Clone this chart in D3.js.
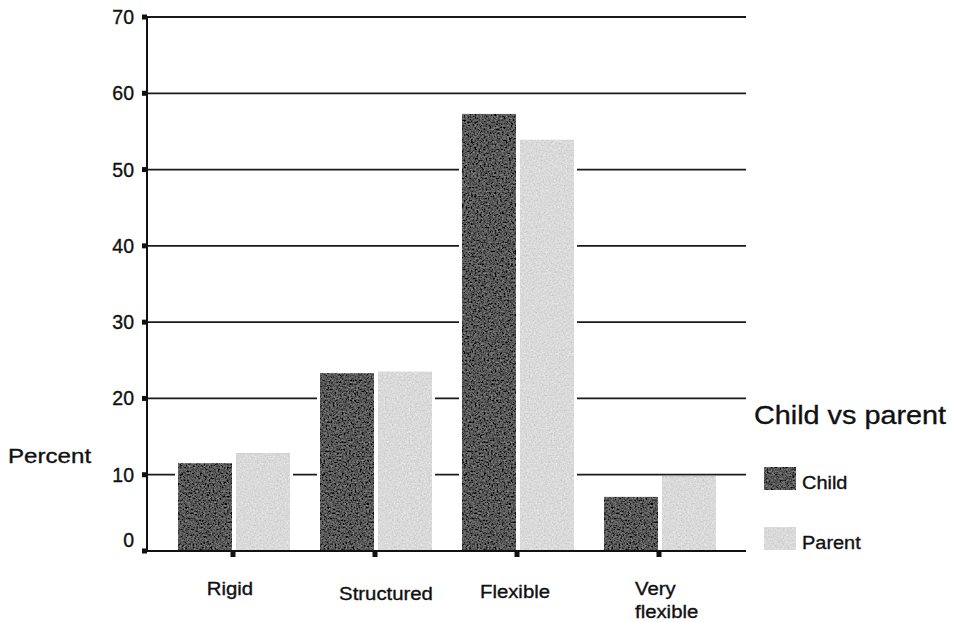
<!DOCTYPE html>
<html>
<head>
<meta charset="utf-8">
<script src="https://cdn.jsdelivr.net/npm/d3@7"></script>
<style>
  html, body { margin: 0; padding: 0; background: #fff; }
  svg { display: block; }
  text { font-family: "Liberation Sans", Arial, sans-serif; fill: #111; stroke: #111; stroke-width: 0.35px; }
</style>
</head>
<body>
<svg id="chart" width="957" height="622"></svg>
<script>
const categories = ["Rigid", "Structured", "Flexible", "Very flexible"];
const series = ["Child", "Parent"];
const childValues = [11.5, 23.3, 57.3, 7.1];
const parentValues = [12.8, 23.5, 53.9, 9.8];
const yTicks = [0, 10, 20, 30, 40, 50, 60, 70];
const legendTitle = "Child vs parent";
const yAxisTitle = "Percent";

const svg = d3.select("#chart");

// grain filters
const defs = svg.append("defs");
function grain(id, amount, seed, freq) {
  const f = defs.append("filter").attr("id", id)
    .attr("x", 0).attr("y", 0).attr("width", 1).attr("height", 1);
  f.append("feTurbulence").attr("type", "fractalNoise").attr("baseFrequency", freq)
    .attr("numOctaves", 3).attr("seed", seed).attr("result", "noise");
  f.append("feColorMatrix").attr("in", "noise").attr("type", "matrix")
    .attr("values", "0.33 0.33 0.33 0 0  0.33 0.33 0.33 0 0  0.33 0.33 0.33 0 0  0 0 0 0 1")
    .attr("result", "gnoise");
  f.append("feComposite").attr("in", "SourceGraphic").attr("in2", "gnoise")
    .attr("operator", "arithmetic").attr("k1", 0).attr("k2", 1).attr("k3", amount).attr("k4", -amount / 2)
    .attr("result", "mix");
  f.append("feComposite").attr("in", "mix").attr("in2", "SourceGraphic").attr("operator", "in");
}
grain("grainDark", 0.75, 4, 0.55);
grain("grainLight", 0.6, 9, 0.6);

const colors = { Child: "#585858", Parent: "#dadada" };
const filters = { Child: "url(#grainDark)", Parent: "url(#grainLight)" };

const y = d3.scaleLinear().domain([0, 70]).range([551, 17]);
const x0 = d3.scaleBand().domain(categories).range([162, 730]).paddingInner(0).paddingOuter(0);
const x1 = d3.scaleBand().domain(series).range([16, 128]).paddingInner(0.07);

const axisX = 147, gridRight = 746;

// gridlines
svg.append("g").selectAll("line").data(yTicks.filter(d => d > 0)).join("line")
  .attr("x1", axisX).attr("x2", gridRight)
  .attr("y1", d => y(d)).attr("y2", d => y(d))
  .attr("stroke", "#1a1a1a").attr("stroke-width", 1.8);

// bars
const rows = categories.map((c, i) => ({ cat: c, Child: childValues[i], Parent: parentValues[i] }));
const groups = svg.append("g").selectAll("g").data(rows).join("g")
  .attr("transform", d => `translate(${x0(d.cat)},0)`);
const barData = d => series.map(s => ({ s, v: d[s] }));
groups.selectAll("rect.knock").data(barData).join("rect").attr("class", "knock")
  .attr("x", d => x1(d.s) - 3).attr("width", x1.bandwidth() + 6)
  .attr("y", d => y(d.v)).attr("height", d => y(0) - y(d.v) - 1)
  .attr("fill", "#fff");
groups.selectAll("rect.bar").data(barData).join("rect").attr("class", "bar")
  .attr("x", d => x1(d.s)).attr("width", x1.bandwidth())
  .attr("y", d => y(d.v)).attr("height", d => y(0) - y(d.v))
  .attr("fill", d => colors[d.s]).attr("filter", d => filters[d.s]);

// axes
svg.append("line").attr("x1", axisX).attr("x2", axisX).attr("y1", y(70)).attr("y2", y(0))
  .attr("stroke", "#111").attr("stroke-width", 2);
svg.append("line").attr("x1", axisX - 4).attr("x2", gridRight).attr("y1", y(0)).attr("y2", y(0))
  .attr("stroke", "#111").attr("stroke-width", 2);

// y ticks + labels
svg.append("g").selectAll("rect").data(yTicks).join("rect")
  .attr("x", axisX - 5).attr("y", d => y(d) - 2.5).attr("width", 5).attr("height", 5).attr("fill", "#111");
svg.append("g").selectAll("text").data(yTicks).join("text")
  .attr("x", 134).attr("y", d => y(d) + (d === 0 ? -4 : 7))
  .attr("text-anchor", "end").attr("font-size", 19.5).text(d => d);

// x ticks
svg.append("g").selectAll("rect").data(categories).join("rect")
  .attr("x", d => x0(d) + x0.bandwidth() / 2 - 2.5).attr("y", y(0))
  .attr("width", 5).attr("height", 6).attr("fill", "#111");

// x labels
const labelOffsets = { "Rigid": [-3, 44], "Structured": [11, 49], "Flexible": [-2, 47] };
Object.keys(labelOffsets).forEach(c => {
  const [dx, dy] = labelOffsets[c];
  svg.append("text")
    .attr("transform", `translate(${x0(c) + x0.bandwidth() / 2 + dx},${y(0) + dy}) scale(1.13,1)`)
    .attr("text-anchor", "middle").attr("font-size", 18).text(c);
});
const vf = "Very flexible".split(" ");
const vfx = x0("Very flexible") + x0.bandwidth() / 2 - 24;
svg.append("text")
  .attr("transform", `translate(${vfx},${y(0) + 44}) scale(1.13,1)`)
  .attr("font-size", 18).text(vf[0]);
svg.append("text")
  .attr("transform", `translate(${vfx},${y(0) + 67}) scale(1.13,1)`)
  .attr("font-size", 18).text(vf[1]);

// y axis title
svg.append("text").attr("transform", "translate(8,463) scale(1.15,1)")
  .attr("font-size", 21).text(yAxisTitle);

// legend
svg.append("text").attr("transform", "translate(754,424) scale(1.13,1)")
  .attr("font-size", 25.5).text(legendTitle);
const legendY = [467, 527];
series.forEach((s, i) => {
  svg.append("rect").attr("x", 764).attr("y", legendY[i]).attr("width", 32).attr("height", 23)
    .attr("fill", colors[s]).attr("filter", filters[s]);
  svg.append("text").attr("transform", `translate(802,${legendY[i] + 22}) scale(1.05,1)`)
    .attr("font-size", 19).text(s);
});
</script>
</body>
</html>
